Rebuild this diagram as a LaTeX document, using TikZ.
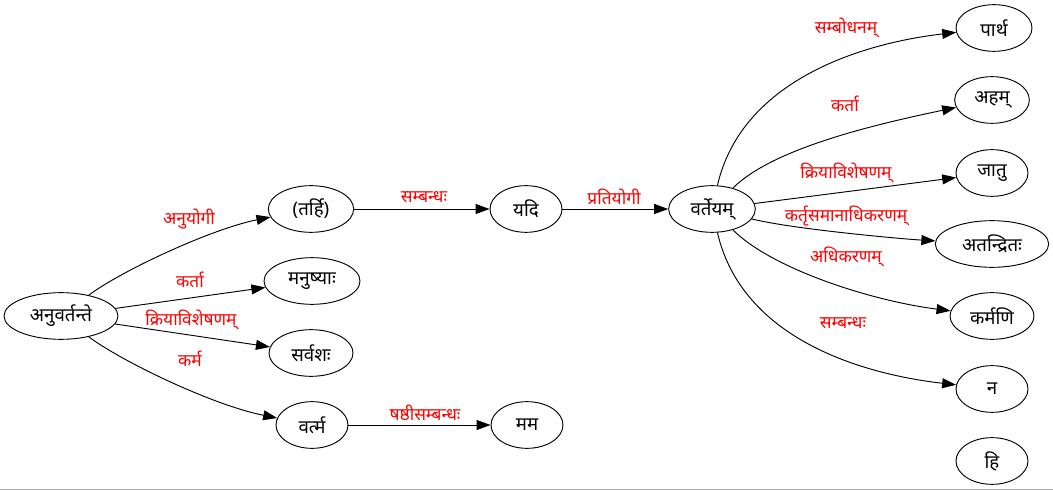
\documentclass[tikz,border=0pt]{standalone}
\usepackage{fontspec}
\newfontfamily\deva[Script=Devanagari]{Noto Sans}
\usetikzlibrary{shapes.geometric, arrows.meta}

\begin{document}
\begin{tikzpicture}[x=0.75pt, y=-0.75pt,
word/.style={ellipse, draw, line width=0.7pt, minimum width=54pt, minimum height=35pt, inner sep=0pt, font=\deva\fontsize{14}{16}\selectfont},
rel/.style={text=red, inner sep=0pt, font=\deva\fontsize{13}{15}\selectfont},
link/.style={line width=0.7pt, -{Triangle[length=10.5pt,width=7.5pt]}}]
\useasboundingbox (0,0) rectangle (1053,491);
\draw[gray!60, line width=1.2pt] (0,489.5)--(1053,489.5);

\node[word, minimum width=85.5pt] (av) at (61,316) {अनुवर्तन्ते};
\node[word, minimum width=64pt] (th) at (311,209) {(तर्हि)};
\node[word, minimum width=72pt] (mn) at (312,281) {मनुष्याः};
\node[word, minimum width=63pt] (sv) at (311,353) {सर्वशः};
\node[word] (vm) at (312,425) {वर्त्म};
\node[word] (yd) at (526,209) {यदि};
\node[word, minimum width=65pt] (vy) at (712,209) {वर्तेयम्};
\node[word] (mm) at (527,425) {मम};
\node[word, minimum width=57pt] (pa) at (994,28) {पार्थ};
\node[word, minimum width=56pt] (ah) at (992,100) {अहम्};
\node[word] (jt) at (992,173) {जातु};
\node[word, minimum width=85pt] (at) at (992,244) {अतन्द्रितः};
\node[word, minimum width=63pt] (km) at (992,316) {कर्मणि};
\node[word] (na) at (992,389) {न};
\node[word] (hi) at (992,461) {हि};

\draw[link] (av) .. controls +(60,-45) and +(-100,20) .. (th);
\draw[link] (av) -- (mn);
\draw[link] (av) -- (sv);
\draw[link] (av) .. controls +(60,45) and +(-100,-20) .. (vm);
\draw[link] (th) -- (yd);
\draw[link] (yd) -- (vy);
\draw[link] (vm) -- (mm);
\draw[link] (vy) .. controls +(30,-130) and +(-130,15) .. (pa);
\draw[link] (vy) .. controls +(60,-60) and +(-120,25) .. (ah);
\draw[link] (vy) -- (jt);
\draw[link] (vy) .. controls +(80,20) and +(-90,-5) .. (at);
\draw[link] (vy) .. controls +(60,60) and +(-120,-15) .. (km);
\draw[link] (vy) .. controls +(30,130) and +(-130,-15) .. (na);

\node[rel] (l1) at (189,219) {अनुयोगी};
\node[rel] (l2) at (190,280) {कर्ता};
\node[rel] (l3) at (191,320) {क्रियाविशेषणम्};
\node[rel] (l4) at (190,359) {कर्म};
\node[rel] (l5) at (424,197) {सम्बन्धः};
\node[rel] (l6) at (614,197) {प्रतियोगी};
\node[rel] (l7) at (425,413) {षष्ठीसम्बन्धः};
\node[rel] (l8) at (846,28) {सम्बोधनम्};
\node[rel] (l9) at (845,104) {कर्ता};
\node[rel] (l10) at (846,173) {क्रियाविशेषणम्};
\node[rel] (l11) at (846,216) {कर्तृसमानाधिकरणम्};
\node[rel] (l12) at (846,257) {अधिकरणम्};
\node[rel] (l13) at (843,323) {सम्बन्धः};
\end{tikzpicture}
\end{document}
